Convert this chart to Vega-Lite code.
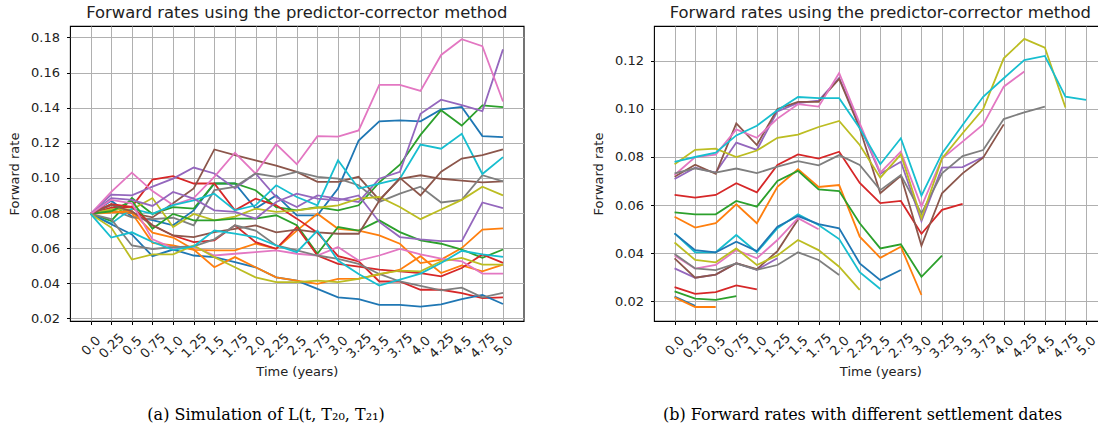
{
  "$schema": "https://vega.github.io/schema/vega-lite/v6.json",
  "background": "white",
  "padding": {"left": 8, "top": 4, "right": 0, "bottom": 0},
  "spacing": 67,
  "config": {
    "font": "DejaVu Sans",
    "view": {"stroke": "#000", "strokeWidth": 1.1},
    "axis": {
      "grid": true, "gridColor": "#b0b0b0", "gridWidth": 1,
      "domain": false, "tickColor": "#000", "tickSize": 3.5, "tickWidth": 1,
      "labelFont": "DejaVu Sans", "labelFontSize": 13, "labelColor": "#222",
      "titleFont": "DejaVu Sans", "titleFontSize": 13, "titleFontWeight": "normal", "titleColor": "#222"
    },
    "title": {"font": "DejaVu Sans", "fontSize": 16.4, "fontWeight": "normal", "color": "#222"},
    "line": {"strokeWidth": 1.8}
  },
  "datasets": {
    "sim": [
      {"path":1,"t":0,"rate":0.0795},{"path":1,"t":0.25,"rate":0.087},{"path":1,"t":0.5,"rate":0.078},{"path":1,"t":0.75,"rate":0.076},{"path":1,"t":1,"rate":0.073},{"path":1,"t":1.25,"rate":0.0815},{"path":1,"t":1.5,"rate":0.0968},{"path":1,"t":1.75,"rate":0.0968},{"path":1,"t":2,"rate":0.0825},{"path":1,"t":2.25,"rate":0.09},{"path":1,"t":2.5,"rate":0.0787},{"path":1,"t":2.75,"rate":0.0787},{"path":1,"t":3,"rate":0.094},{"path":1,"t":3.25,"rate":0.1213},{"path":1,"t":3.5,"rate":0.1322},{"path":1,"t":3.75,"rate":0.1328},{"path":1,"t":4,"rate":0.1322},{"path":1,"t":4.25,"rate":0.139},{"path":1,"t":4.5,"rate":0.1404},{"path":1,"t":4.75,"rate":0.1238},{"path":1,"t":5,"rate":0.1232},
      {"path":2,"t":0,"rate":0.0795},{"path":2,"t":0.25,"rate":0.081},{"path":2,"t":0.5,"rate":0.08},{"path":2,"t":0.75,"rate":0.063},{"path":2,"t":1,"rate":0.0615},{"path":2,"t":1.25,"rate":0.059},{"path":2,"t":1.5,"rate":0.0587},{"path":2,"t":1.75,"rate":0.0587},{"path":2,"t":2,"rate":0.0625},{"path":2,"t":2.25,"rate":0.0596},{"path":2,"t":2.5,"rate":0.07},{"path":2,"t":2.75,"rate":0.0796},{"path":2,"t":3,"rate":0.071},{"path":2,"t":3.25,"rate":0.07},{"path":2,"t":3.5,"rate":0.0672},{"path":2,"t":3.75,"rate":0.0625},{"path":2,"t":4,"rate":0.0515},{"path":2,"t":4.25,"rate":0.0535},{"path":2,"t":4.5,"rate":0.06},{"path":2,"t":4.75,"rate":0.0705},{"path":2,"t":5,"rate":0.0713},
      {"path":3,"t":0,"rate":0.0795},{"path":3,"t":0.25,"rate":0.0755},{"path":3,"t":0.5,"rate":0.0885},{"path":3,"t":0.75,"rate":0.0795},{"path":3,"t":1,"rate":0.0834},{"path":3,"t":1.25,"rate":0.0825},{"path":3,"t":1.5,"rate":0.0968},{"path":3,"t":1.75,"rate":0.0968},{"path":3,"t":2,"rate":0.093},{"path":3,"t":2.25,"rate":0.0834},{"path":3,"t":2.5,"rate":0.0815},{"path":3,"t":2.75,"rate":0.0834},{"path":3,"t":3,"rate":0.0815},{"path":3,"t":3.25,"rate":0.0844},{"path":3,"t":3.5,"rate":0.0975},{"path":3,"t":3.75,"rate":0.1075},{"path":3,"t":4,"rate":0.1245},{"path":3,"t":4.25,"rate":0.1385},{"path":3,"t":4.5,"rate":0.1298},{"path":3,"t":4.75,"rate":0.1413},{"path":3,"t":5,"rate":0.1403},
      {"path":4,"t":0,"rate":0.0795},{"path":4,"t":0.25,"rate":0.083},{"path":4,"t":0.5,"rate":0.0835},{"path":4,"t":0.75,"rate":0.099},{"path":4,"t":1,"rate":0.101},{"path":4,"t":1.25,"rate":0.0968},{"path":4,"t":1.5,"rate":0.0968},{"path":4,"t":1.75,"rate":0.0815},{"path":4,"t":2,"rate":0.0882},{"path":4,"t":2.25,"rate":0.0844},{"path":4,"t":2.5,"rate":0.0768},{"path":4,"t":2.75,"rate":0.0688},{"path":4,"t":3,"rate":0.0554},{"path":4,"t":3.25,"rate":0.0525},{"path":4,"t":3.5,"rate":0.041},{"path":4,"t":3.75,"rate":0.041},{"path":4,"t":4,"rate":0.0363},{"path":4,"t":4.25,"rate":0.0363},{"path":4,"t":4.5,"rate":0.0344},{"path":4,"t":4.75,"rate":0.0315},{"path":4,"t":5,"rate":0.0319},
      {"path":5,"t":0,"rate":0.0795},{"path":5,"t":0.25,"rate":0.0905},{"path":5,"t":0.5,"rate":0.09},{"path":5,"t":0.75,"rate":0.095},{"path":5,"t":1,"rate":0.0996},{"path":5,"t":1.25,"rate":0.1059},{"path":5,"t":1.5,"rate":0.1025},{"path":5,"t":1.75,"rate":0.094},{"path":5,"t":2,"rate":0.1025},{"path":5,"t":2.25,"rate":0.0891},{"path":5,"t":2.5,"rate":0.0834},{"path":5,"t":2.75,"rate":0.09},{"path":5,"t":3,"rate":0.0882},{"path":5,"t":3.25,"rate":0.0863},{"path":5,"t":3.5,"rate":0.0995},{"path":5,"t":3.75,"rate":0.1035},{"path":5,"t":4,"rate":0.1365},{"path":5,"t":4.25,"rate":0.1445},{"path":5,"t":4.5,"rate":0.1415},{"path":5,"t":4.75,"rate":0.138},{"path":5,"t":5,"rate":0.1732},
      {"path":6,"t":0,"rate":0.0795},{"path":6,"t":0.25,"rate":0.085},{"path":6,"t":0.5,"rate":0.08},{"path":6,"t":0.75,"rate":0.0775},{"path":6,"t":1,"rate":0.0855},{"path":6,"t":1.25,"rate":0.094},{"path":6,"t":1.5,"rate":0.1162},{"path":6,"t":1.75,"rate":0.113},{"path":6,"t":2,"rate":0.11},{"path":6,"t":2.25,"rate":0.107},{"path":6,"t":2.5,"rate":0.1034},{"path":6,"t":2.75,"rate":0.0977},{"path":6,"t":3,"rate":0.0977},{"path":6,"t":3.25,"rate":0.1006},{"path":6,"t":3.5,"rate":0.0875},{"path":6,"t":3.75,"rate":0.0995},{"path":6,"t":4,"rate":0.1015},{"path":6,"t":4.25,"rate":0.0995},{"path":6,"t":4.5,"rate":0.0985},{"path":6,"t":4.75,"rate":0.0975},{"path":6,"t":5,"rate":0.098},
      {"path":7,"t":0,"rate":0.0795},{"path":7,"t":0.25,"rate":0.092},{"path":7,"t":0.5,"rate":0.103},{"path":7,"t":0.75,"rate":0.0925},{"path":7,"t":1,"rate":0.0845},{"path":7,"t":1.25,"rate":0.0885},{"path":7,"t":1.5,"rate":0.1006},{"path":7,"t":1.75,"rate":0.1143},{"path":7,"t":2,"rate":0.1025},{"path":7,"t":2.25,"rate":0.1192},{"path":7,"t":2.5,"rate":0.1078},{"path":7,"t":2.75,"rate":0.1238},{"path":7,"t":3,"rate":0.1235},{"path":7,"t":3.25,"rate":0.127},{"path":7,"t":3.5,"rate":0.153},{"path":7,"t":3.75,"rate":0.153},{"path":7,"t":4,"rate":0.1495},{"path":7,"t":4.25,"rate":0.17},{"path":7,"t":4.5,"rate":0.179},{"path":7,"t":4.75,"rate":0.175},{"path":7,"t":5,"rate":0.1435},
      {"path":8,"t":0,"rate":0.0795},{"path":8,"t":0.25,"rate":0.082},{"path":8,"t":0.5,"rate":0.0775},{"path":8,"t":0.75,"rate":0.0765},{"path":8,"t":1,"rate":0.0773},{"path":8,"t":1.25,"rate":0.073},{"path":8,"t":1.5,"rate":0.093},{"path":8,"t":1.75,"rate":0.0949},{"path":8,"t":2,"rate":0.1025},{"path":8,"t":2.25,"rate":0.1006},{"path":8,"t":2.5,"rate":0.1034},{"path":8,"t":2.75,"rate":0.1006},{"path":8,"t":3,"rate":0.0996},{"path":8,"t":3.25,"rate":0.0958},{"path":8,"t":3.5,"rate":0.0863},{"path":8,"t":3.75,"rate":0.091},{"path":8,"t":4,"rate":0.095},{"path":8,"t":4.25,"rate":0.086},{"path":8,"t":4.5,"rate":0.0875},{"path":8,"t":4.75,"rate":0.1015},{"path":8,"t":5,"rate":0.098},
      {"path":9,"t":0,"rate":0.0795},{"path":9,"t":0.25,"rate":0.082},{"path":9,"t":0.5,"rate":0.082},{"path":9,"t":0.75,"rate":0.0885},{"path":9,"t":1,"rate":0.072},{"path":9,"t":1.25,"rate":0.0795},{"path":9,"t":1.5,"rate":0.0758},{"path":9,"t":1.75,"rate":0.078},{"path":9,"t":2,"rate":0.0825},{"path":9,"t":2.25,"rate":0.0806},{"path":9,"t":2.5,"rate":0.0815},{"path":9,"t":2.75,"rate":0.083},{"path":9,"t":3,"rate":0.0844},{"path":9,"t":3.25,"rate":0.0882},{"path":9,"t":3.5,"rate":0.0891},{"path":9,"t":3.75,"rate":0.0834},{"path":9,"t":4,"rate":0.0765},{"path":9,"t":4.25,"rate":0.082},{"path":9,"t":4.5,"rate":0.0875},{"path":9,"t":4.75,"rate":0.095},{"path":9,"t":5,"rate":0.09},
      {"path":10,"t":0,"rate":0.0795},{"path":10,"t":0.25,"rate":0.074},{"path":10,"t":0.5,"rate":0.0825},{"path":10,"t":0.75,"rate":0.0795},{"path":10,"t":1,"rate":0.0845},{"path":10,"t":1.25,"rate":0.0872},{"path":10,"t":1.5,"rate":0.091},{"path":10,"t":1.75,"rate":0.0815},{"path":10,"t":2,"rate":0.0844},{"path":10,"t":2.25,"rate":0.0958},{"path":10,"t":2.5,"rate":0.0891},{"path":10,"t":2.75,"rate":0.0844},{"path":10,"t":3,"rate":0.11},{"path":10,"t":3.25,"rate":0.0939},{"path":10,"t":3.5,"rate":0.0968},{"path":10,"t":3.75,"rate":0.0996},{"path":10,"t":4,"rate":0.119},{"path":10,"t":4.25,"rate":0.1166},{"path":10,"t":4.5,"rate":0.1251},{"path":10,"t":4.75,"rate":0.1022},{"path":10,"t":5,"rate":0.1118},
      {"path":11,"t":0,"rate":0.0795},{"path":11,"t":0.25,"rate":0.0736},{"path":11,"t":0.5,"rate":0.0678},{"path":11,"t":0.75,"rate":0.0554},{"path":11,"t":1,"rate":0.0592},{"path":11,"t":1.25,"rate":0.0558},{"path":11,"t":1.5,"rate":0.0549},{"path":11,"t":1.75,"rate":0.052},{"path":11,"t":2,"rate":0.0491},{"path":11,"t":2.25,"rate":0.0434},{"path":11,"t":2.5,"rate":0.0415},{"path":11,"t":2.75,"rate":0.0368},{"path":11,"t":3,"rate":0.032},{"path":11,"t":3.25,"rate":0.031},{"path":11,"t":3.5,"rate":0.0277},{"path":11,"t":3.75,"rate":0.0277},{"path":11,"t":4,"rate":0.0267},{"path":11,"t":4.25,"rate":0.028},{"path":11,"t":4.5,"rate":0.031},{"path":11,"t":4.75,"rate":0.0334},{"path":11,"t":5,"rate":0.0282},
      {"path":12,"t":0,"rate":0.0795},{"path":12,"t":0.25,"rate":0.0803},{"path":12,"t":0.5,"rate":0.081},{"path":12,"t":0.75,"rate":0.0688},{"path":12,"t":1,"rate":0.066},{"path":12,"t":1.25,"rate":0.0592},{"path":12,"t":1.5,"rate":0.0491},{"path":12,"t":1.75,"rate":0.0549},{"path":12,"t":2,"rate":0.0491},{"path":12,"t":2.25,"rate":0.0434},{"path":12,"t":2.5,"rate":0.0415},{"path":12,"t":2.75,"rate":0.0396},{"path":12,"t":3,"rate":0.0425},{"path":12,"t":3.25,"rate":0.0426},{"path":12,"t":3.5,"rate":0.0449},{"path":12,"t":3.75,"rate":0.0477},{"path":12,"t":4,"rate":0.0554},{"path":12,"t":4.25,"rate":0.0458},{"path":12,"t":4.5,"rate":0.0502},{"path":12,"t":4.75,"rate":0.0468},{"path":12,"t":5,"rate":0.0506},
      {"path":13,"t":0,"rate":0.0795},{"path":13,"t":0.25,"rate":0.081},{"path":13,"t":0.5,"rate":0.087},{"path":13,"t":0.75,"rate":0.071},{"path":13,"t":1,"rate":0.0795},{"path":13,"t":1.25,"rate":0.0758},{"path":13,"t":1.5,"rate":0.0758},{"path":13,"t":1.75,"rate":0.0768},{"path":13,"t":2,"rate":0.0768},{"path":13,"t":2.25,"rate":0.0787},{"path":13,"t":2.5,"rate":0.073},{"path":13,"t":2.75,"rate":0.0568},{"path":13,"t":3,"rate":0.072},{"path":13,"t":3.25,"rate":0.07},{"path":13,"t":3.5,"rate":0.0758},{"path":13,"t":3.75,"rate":0.0691},{"path":13,"t":4,"rate":0.0644},{"path":13,"t":4.25,"rate":0.0625},{"path":13,"t":4.5,"rate":0.0592},{"path":13,"t":4.75,"rate":0.0545},{"path":13,"t":5,"rate":0.0592},
      {"path":14,"t":0,"rate":0.0795},{"path":14,"t":0.25,"rate":0.085},{"path":14,"t":0.5,"rate":0.0835},{"path":14,"t":0.75,"rate":0.073},{"path":14,"t":1,"rate":0.0672},{"path":14,"t":1.25,"rate":0.0634},{"path":14,"t":1.5,"rate":0.0644},{"path":14,"t":1.75,"rate":0.073},{"path":14,"t":2,"rate":0.0634},{"path":14,"t":2.25,"rate":0.0596},{"path":14,"t":2.5,"rate":0.072},{"path":14,"t":2.75,"rate":0.0558},{"path":14,"t":3,"rate":0.051},{"path":14,"t":3.25,"rate":0.0495},{"path":14,"t":3.5,"rate":0.0477},{"path":14,"t":3.75,"rate":0.0468},{"path":14,"t":4,"rate":0.0458},{"path":14,"t":4.25,"rate":0.0439},{"path":14,"t":4.5,"rate":0.0487},{"path":14,"t":4.75,"rate":0.0564},{"path":14,"t":5,"rate":0.0516},
      {"path":15,"t":0,"rate":0.0795},{"path":15,"t":0.25,"rate":0.0885},{"path":15,"t":0.5,"rate":0.0875},{"path":15,"t":0.75,"rate":0.084},{"path":15,"t":1,"rate":0.092},{"path":15,"t":1.25,"rate":0.0882},{"path":15,"t":1.5,"rate":0.0815},{"path":15,"t":1.75,"rate":0.0806},{"path":15,"t":2,"rate":0.0768},{"path":15,"t":2.25,"rate":0.0863},{"path":15,"t":2.5,"rate":0.091},{"path":15,"t":2.75,"rate":0.0882},{"path":15,"t":3,"rate":0.0872},{"path":15,"t":3.25,"rate":0.09},{"path":15,"t":3.5,"rate":0.0749},{"path":15,"t":3.75,"rate":0.0663},{"path":15,"t":4,"rate":0.065},{"path":15,"t":4.25,"rate":0.064},{"path":15,"t":4.5,"rate":0.064},{"path":15,"t":4.75,"rate":0.086},{"path":15,"t":5,"rate":0.0828},
      {"path":16,"t":0,"rate":0.0795},{"path":16,"t":0.25,"rate":0.0845},{"path":16,"t":0.5,"rate":0.081},{"path":16,"t":0.75,"rate":0.073},{"path":16,"t":1,"rate":0.0672},{"path":16,"t":1.25,"rate":0.0663},{"path":16,"t":1.5,"rate":0.0691},{"path":16,"t":1.75,"rate":0.071},{"path":16,"t":2,"rate":0.073},{"path":16,"t":2.25,"rate":0.069},{"path":16,"t":2.5,"rate":0.0705},{"path":16,"t":2.75,"rate":0.069},{"path":16,"t":3,"rate":0.0682},{"path":16,"t":3.25,"rate":0.0682},{"path":16,"t":3.5,"rate":0.087},{"path":16,"t":3.75,"rate":0.1},{"path":16,"t":4,"rate":0.09},{"path":16,"t":4.25,"rate":0.1035},{"path":16,"t":4.5,"rate":0.111},{"path":16,"t":4.75,"rate":0.113},{"path":16,"t":5,"rate":0.1162},
      {"path":17,"t":0,"rate":0.0795},{"path":17,"t":0.25,"rate":0.0875},{"path":17,"t":0.5,"rate":0.0855},{"path":17,"t":0.75,"rate":0.065},{"path":17,"t":1,"rate":0.06},{"path":17,"t":1.25,"rate":0.061},{"path":17,"t":1.5,"rate":0.0558},{"path":17,"t":1.75,"rate":0.0568},{"path":17,"t":2,"rate":0.0577},{"path":17,"t":2.25,"rate":0.0587},{"path":17,"t":2.5,"rate":0.0568},{"path":17,"t":2.75,"rate":0.0558},{"path":17,"t":3,"rate":0.0606},{"path":17,"t":3.25,"rate":0.0529},{"path":17,"t":3.5,"rate":0.0558},{"path":17,"t":3.75,"rate":0.0596},{"path":17,"t":4,"rate":0.0565},{"path":17,"t":4.25,"rate":0.054},{"path":17,"t":4.5,"rate":0.0525},{"path":17,"t":4.75,"rate":0.0455},{"path":17,"t":5,"rate":0.0455},
      {"path":18,"t":0,"rate":0.0795},{"path":18,"t":0.25,"rate":0.0765},{"path":18,"t":0.5,"rate":0.0615},{"path":18,"t":0.75,"rate":0.0595},{"path":18,"t":1,"rate":0.0606},{"path":18,"t":1.25,"rate":0.061},{"path":18,"t":1.5,"rate":0.065},{"path":18,"t":1.75,"rate":0.073},{"path":18,"t":2,"rate":0.07},{"path":18,"t":2.25,"rate":0.0615},{"path":18,"t":2.5,"rate":0.0587},{"path":18,"t":2.75,"rate":0.0558},{"path":18,"t":3,"rate":0.0539},{"path":18,"t":3.25,"rate":0.051},{"path":18,"t":3.5,"rate":0.0453},{"path":18,"t":3.75,"rate":0.041},{"path":18,"t":4,"rate":0.0385},{"path":18,"t":4.25,"rate":0.036},{"path":18,"t":4.5,"rate":0.0375},{"path":18,"t":4.75,"rate":0.032},{"path":18,"t":5,"rate":0.0345},
      {"path":19,"t":0,"rate":0.0795},{"path":19,"t":0.25,"rate":0.0717},{"path":19,"t":0.5,"rate":0.0535},{"path":19,"t":0.75,"rate":0.0564},{"path":19,"t":1,"rate":0.0564},{"path":19,"t":1.25,"rate":0.0615},{"path":19,"t":1.5,"rate":0.0549},{"path":19,"t":1.75,"rate":0.0491},{"path":19,"t":2,"rate":0.0434},{"path":19,"t":2.25,"rate":0.0406},{"path":19,"t":2.5,"rate":0.0406},{"path":19,"t":2.75,"rate":0.0415},{"path":19,"t":3,"rate":0.0406},{"path":19,"t":3.25,"rate":0.0425},{"path":19,"t":3.5,"rate":0.0453},{"path":19,"t":3.75,"rate":0.0472},{"path":19,"t":4,"rate":0.0468},{"path":19,"t":4.25,"rate":0.0525},{"path":19,"t":4.5,"rate":0.0544},{"path":19,"t":4.75,"rate":0.0506},{"path":19,"t":5,"rate":0.0506},
      {"path":20,"t":0,"rate":0.0795},{"path":20,"t":0.25,"rate":0.066},{"path":20,"t":0.5,"rate":0.069},{"path":20,"t":0.75,"rate":0.0635},{"path":20,"t":1,"rate":0.059},{"path":20,"t":1.25,"rate":0.061},{"path":20,"t":1.5,"rate":0.07},{"path":20,"t":1.75,"rate":0.0682},{"path":20,"t":2,"rate":0.0663},{"path":20,"t":2.25,"rate":0.0615},{"path":20,"t":2.5,"rate":0.0577},{"path":20,"t":2.75,"rate":0.07},{"path":20,"t":3,"rate":0.0529},{"path":20,"t":3.25,"rate":0.0453},{"path":20,"t":3.5,"rate":0.0387},{"path":20,"t":3.75,"rate":0.042},{"path":20,"t":4,"rate":0.0455},{"path":20,"t":4.25,"rate":0.0515},{"path":20,"t":4.5,"rate":0.0585},{"path":20,"t":4.75,"rate":0.0565},{"path":20,"t":5,"rate":0.055}
    ],
    "settle": [
      {"path":1,"t":0,"rate":0.0218},{"path":1,"t":0.25,"rate":0.018},
      {"path":2,"t":0,"rate":0.0215},{"path":2,"t":0.25,"rate":0.0175},{"path":2,"t":0.5,"rate":0.0175},
      {"path":3,"t":0,"rate":0.024},{"path":3,"t":0.25,"rate":0.021},{"path":3,"t":0.5,"rate":0.0205},{"path":3,"t":0.75,"rate":0.022},
      {"path":4,"t":0,"rate":0.0258},{"path":4,"t":0.25,"rate":0.023},{"path":4,"t":0.5,"rate":0.0237},{"path":4,"t":0.75,"rate":0.0265},{"path":4,"t":1,"rate":0.0248},
      {"path":5,"t":0,"rate":0.0336},{"path":5,"t":0.25,"rate":0.0297},{"path":5,"t":0.5,"rate":0.031},{"path":5,"t":0.75,"rate":0.0357},{"path":5,"t":1,"rate":0.033},{"path":5,"t":1.25,"rate":0.0378},
      {"path":6,"t":0,"rate":0.0378},{"path":6,"t":0.25,"rate":0.0297},{"path":6,"t":0.5,"rate":0.031},{"path":6,"t":0.75,"rate":0.0357},{"path":6,"t":1,"rate":0.0333},{"path":6,"t":1.25,"rate":0.0408},{"path":6,"t":1.5,"rate":0.054},
      {"path":7,"t":0,"rate":0.039},{"path":7,"t":0.25,"rate":0.0335},{"path":7,"t":0.5,"rate":0.035},{"path":7,"t":0.75,"rate":0.0412},{"path":7,"t":1,"rate":0.0378},{"path":7,"t":1.25,"rate":0.0454},{"path":7,"t":1.5,"rate":0.0545},{"path":7,"t":1.75,"rate":0.0499},
      {"path":8,"t":0,"rate":0.0396},{"path":8,"t":0.25,"rate":0.0336},{"path":8,"t":0.5,"rate":0.0329},{"path":8,"t":0.75,"rate":0.0357},{"path":8,"t":1,"rate":0.033},{"path":8,"t":1.25,"rate":0.035},{"path":8,"t":1.5,"rate":0.0403},{"path":8,"t":1.75,"rate":0.0371},{"path":8,"t":2,"rate":0.0308},
      {"path":9,"t":0,"rate":0.0444},{"path":9,"t":0.25,"rate":0.0371},{"path":9,"t":0.5,"rate":0.0361},{"path":9,"t":0.75,"rate":0.0419},{"path":9,"t":1,"rate":0.035},{"path":9,"t":1.25,"rate":0.039},{"path":9,"t":1.5,"rate":0.0454},{"path":9,"t":1.75,"rate":0.0412},{"path":9,"t":2,"rate":0.0343},{"path":9,"t":2.25,"rate":0.0246},
      {"path":10,"t":0,"rate":0.0482},{"path":10,"t":0.25,"rate":0.0403},{"path":10,"t":0.5,"rate":0.0403},{"path":10,"t":0.75,"rate":0.0475},{"path":10,"t":1,"rate":0.0403},{"path":10,"t":1.25,"rate":0.0503},{"path":10,"t":1.5,"rate":0.0561},{"path":10,"t":1.75,"rate":0.0517},{"path":10,"t":2,"rate":0.0458},{"path":10,"t":2.25,"rate":0.032},{"path":10,"t":2.5,"rate":0.025},
      {"path":11,"t":0,"rate":0.0482},{"path":11,"t":0.25,"rate":0.0412},{"path":11,"t":0.5,"rate":0.0403},{"path":11,"t":0.75,"rate":0.0447},{"path":11,"t":1,"rate":0.0408},{"path":11,"t":1.25,"rate":0.051},{"path":11,"t":1.5,"rate":0.0554},{"path":11,"t":1.75,"rate":0.052},{"path":11,"t":2,"rate":0.0503},{"path":11,"t":2.25,"rate":0.0357},{"path":11,"t":2.5,"rate":0.0287},{"path":11,"t":2.75,"rate":0.0329},
      {"path":12,"t":0,"rate":0.0551},{"path":12,"t":0.25,"rate":0.0506},{"path":12,"t":0.5,"rate":0.0524},{"path":12,"t":0.75,"rate":0.0603},{"path":12,"t":1,"rate":0.0524},{"path":12,"t":1.25,"rate":0.0676},{"path":12,"t":1.5,"rate":0.0749},{"path":12,"t":1.75,"rate":0.0675},{"path":12,"t":2,"rate":0.0683},{"path":12,"t":2.25,"rate":0.0468},{"path":12,"t":2.5,"rate":0.038},{"path":12,"t":2.75,"rate":0.0426},{"path":12,"t":3,"rate":0.0225},
      {"path":13,"t":0,"rate":0.0569},{"path":13,"t":0.25,"rate":0.0561},{"path":13,"t":0.5,"rate":0.0561},{"path":13,"t":0.75,"rate":0.0617},{"path":13,"t":1,"rate":0.0593},{"path":13,"t":1.25,"rate":0.07},{"path":13,"t":1.5,"rate":0.0742},{"path":13,"t":1.75,"rate":0.0665},{"path":13,"t":2,"rate":0.0658},{"path":13,"t":2.25,"rate":0.0524},{"path":13,"t":2.5,"rate":0.0419},{"path":13,"t":2.75,"rate":0.0436},{"path":13,"t":3,"rate":0.0301},{"path":13,"t":3.25,"rate":0.0389},
      {"path":14,"t":0,"rate":0.0642},{"path":14,"t":0.25,"rate":0.0631},{"path":14,"t":0.5,"rate":0.0642},{"path":14,"t":0.75,"rate":0.0691},{"path":14,"t":1,"rate":0.0653},{"path":14,"t":1.25,"rate":0.0767},{"path":14,"t":1.5,"rate":0.0811},{"path":14,"t":1.75,"rate":0.0793},{"path":14,"t":2,"rate":0.0822},{"path":14,"t":2.25,"rate":0.0692},{"path":14,"t":2.5,"rate":0.0608},{"path":14,"t":2.75,"rate":0.0617},{"path":14,"t":3,"rate":0.048},{"path":14,"t":3.25,"rate":0.058},{"path":14,"t":3.5,"rate":0.0605},
      {"path":15,"t":0,"rate":0.0708},{"path":15,"t":0.25,"rate":0.0755},{"path":15,"t":0.5,"rate":0.0735},{"path":15,"t":0.75,"rate":0.086},{"path":15,"t":1,"rate":0.083},{"path":15,"t":1.25,"rate":0.099},{"path":15,"t":1.5,"rate":0.1025},{"path":15,"t":1.75,"rate":0.1035},{"path":15,"t":2,"rate":0.113},{"path":15,"t":2.25,"rate":0.093},{"path":15,"t":2.5,"rate":0.073},{"path":15,"t":2.75,"rate":0.078},{"path":15,"t":3,"rate":0.0533},{"path":15,"t":3.25,"rate":0.0756},{"path":15,"t":3.5,"rate":0.0758},{"path":15,"t":3.75,"rate":0.08},
      {"path":16,"t":0,"rate":0.0718},{"path":16,"t":0.25,"rate":0.0768},{"path":16,"t":0.5,"rate":0.073},{"path":16,"t":0.75,"rate":0.094},{"path":16,"t":1,"rate":0.085},{"path":16,"t":1.25,"rate":0.1},{"path":16,"t":1.5,"rate":0.103},{"path":16,"t":1.75,"rate":0.103},{"path":16,"t":2,"rate":0.1125},{"path":16,"t":2.25,"rate":0.092},{"path":16,"t":2.5,"rate":0.0649},{"path":16,"t":2.75,"rate":0.0722},{"path":16,"t":3,"rate":0.043},{"path":16,"t":3.25,"rate":0.0649},{"path":16,"t":3.5,"rate":0.0732},{"path":16,"t":3.75,"rate":0.0797},{"path":16,"t":4,"rate":0.0936},
      {"path":17,"t":0,"rate":0.0725},{"path":17,"t":0.25,"rate":0.08},{"path":17,"t":0.5,"rate":0.081},{"path":17,"t":0.75,"rate":0.0915},{"path":17,"t":1,"rate":0.088},{"path":17,"t":1.25,"rate":0.096},{"path":17,"t":1.5,"rate":0.102},{"path":17,"t":1.75,"rate":0.101},{"path":17,"t":2,"rate":0.115},{"path":17,"t":2.25,"rate":0.094},{"path":17,"t":2.5,"rate":0.0735},{"path":17,"t":2.75,"rate":0.0822},{"path":17,"t":3,"rate":0.0593},{"path":17,"t":3.25,"rate":0.0794},{"path":17,"t":3.5,"rate":0.0864},{"path":17,"t":3.75,"rate":0.0936},{"path":17,"t":4,"rate":0.1093},{"path":17,"t":4.25,"rate":0.1156},
      {"path":18,"t":0,"rate":0.0732},{"path":18,"t":0.25,"rate":0.0753},{"path":18,"t":0.5,"rate":0.0735},{"path":18,"t":0.75,"rate":0.0752},{"path":18,"t":1,"rate":0.0733},{"path":18,"t":1.25,"rate":0.076},{"path":18,"t":1.5,"rate":0.0783},{"path":18,"t":1.75,"rate":0.0765},{"path":18,"t":2,"rate":0.0808},{"path":18,"t":2.25,"rate":0.0767},{"path":18,"t":2.5,"rate":0.0662},{"path":18,"t":2.75,"rate":0.0725},{"path":18,"t":3,"rate":0.0565},{"path":18,"t":3.25,"rate":0.0732},{"path":18,"t":3.5,"rate":0.0804},{"path":18,"t":3.75,"rate":0.0829},{"path":18,"t":4,"rate":0.0958},{"path":18,"t":4.25,"rate":0.0986},{"path":18,"t":4.5,"rate":0.101},
      {"path":19,"t":0,"rate":0.077},{"path":19,"t":0.25,"rate":0.083},{"path":19,"t":0.5,"rate":0.0835},{"path":19,"t":0.75,"rate":0.08},{"path":19,"t":1,"rate":0.0827},{"path":19,"t":1.25,"rate":0.088},{"path":19,"t":1.5,"rate":0.0893},{"path":19,"t":1.75,"rate":0.0925},{"path":19,"t":2,"rate":0.095},{"path":19,"t":2.25,"rate":0.085},{"path":19,"t":2.5,"rate":0.0714},{"path":19,"t":2.75,"rate":0.0811},{"path":19,"t":3,"rate":0.0544},{"path":19,"t":3.25,"rate":0.0794},{"path":19,"t":3.5,"rate":0.0899},{"path":19,"t":3.75,"rate":0.1},{"path":19,"t":4,"rate":0.1211},{"path":19,"t":4.25,"rate":0.1292},{"path":19,"t":4.5,"rate":0.1256},{"path":19,"t":4.75,"rate":0.1006},
      {"path":20,"t":0,"rate":0.078},{"path":20,"t":0.25,"rate":0.08},{"path":20,"t":0.5,"rate":0.0818},{"path":20,"t":0.75,"rate":0.089},{"path":20,"t":1,"rate":0.093},{"path":20,"t":1.25,"rate":0.0995},{"path":20,"t":1.5,"rate":0.105},{"path":20,"t":1.75,"rate":0.1045},{"path":20,"t":2,"rate":0.1045},{"path":20,"t":2.25,"rate":0.092},{"path":20,"t":2.5,"rate":0.077},{"path":20,"t":2.75,"rate":0.0878},{"path":20,"t":3,"rate":0.0639},{"path":20,"t":3.25,"rate":0.0815},{"path":20,"t":3.5,"rate":0.0933},{"path":20,"t":3.75,"rate":0.1051},{"path":20,"t":4,"rate":0.1128},{"path":20,"t":4.25,"rate":0.1204},{"path":20,"t":4.5,"rate":0.1221},{"path":20,"t":4.75,"rate":0.1051},{"path":20,"t":5,"rate":0.1038}
    ]
  },
  "hconcat": [
    {
      "title": {"text": "(a) Simulation of L(t, T₂₀, T₂₁)", "orient": "bottom", "anchor": "middle", "frame": "bounds", "font": "DejaVu Serif", "fontSize": 16, "color": "#000", "offset": 28},
      "vconcat": [
        {
          "title": {"text": "Forward rates using the predictor-corrector method", "offset": 5},
          "width": 453.6,
          "height": 295,
          "data": {"name": "sim"},
          "mark": {"type": "line", "clip": true},
          "encoding": {
            "x": {
              "field": "t", "type": "quantitative",
              "scale": {"domain": [-0.25, 5.25], "nice": false, "zero": false},
              "axis": {
                "values": [0, 0.25, 0.5, 0.75, 1, 1.25, 1.5, 1.75, 2, 2.25, 2.5, 2.75, 3, 3.25, 3.5, 3.75, 4, 4.25, 4.5, 4.75, 5],
                "labelExpr": "datum.value == floor(datum.value) ? format(datum.value, '.1f') : format(datum.value, '')",
                "labelAngle": -45, "labelAlign": "center", "labelBaseline": "middle", "labelPadding": 21,
                "labelOverlap": false, "labelFlush": false, "labelBound": false,
                "title": "Time (years)", "titlePadding": 5
              }
            },
            "y": {
              "field": "rate", "type": "quantitative",
              "scale": {"domain": [0.0185, 0.1865], "nice": false, "zero": false},
              "axis": {"values": [0.02, 0.04, 0.06, 0.08, 0.1, 0.12, 0.14, 0.16, 0.18], "format": ".2f", "labelPadding": 7, "title": "Forward rate", "titlePadding": 9}
            },
            "color": {
              "field": "path", "type": "nominal", "legend": null,
              "scale": {
                "domain": [1, 2, 3, 4, 5, 6, 7, 8, 9, 10, 11, 12, 13, 14, 15, 16, 17, 18, 19, 20],
                "range": ["#1f77b4", "#ff7f0e", "#2ca02c", "#d62728", "#9467bd", "#8c564b", "#e377c2", "#7f7f7f", "#bcbd22", "#17becf", "#1f77b4", "#ff7f0e", "#2ca02c", "#d62728", "#9467bd", "#8c564b", "#e377c2", "#7f7f7f", "#bcbd22", "#17becf"]
              }
            }
          }
        }
      ]
    },
    {
      "title": {"text": "(b) Forward rates with different settlement dates", "orient": "bottom", "anchor": "middle", "frame": "bounds", "font": "DejaVu Serif", "fontSize": 16, "color": "#000", "offset": 28, "dx": 13},
      "vconcat": [
        {
          "title": {"text": "Forward rates using the predictor-corrector method", "offset": 5},
          "width": 452.6,
          "height": 295,
          "data": {"name": "settle"},
          "mark": {"type": "line", "clip": true},
          "encoding": {
            "x": {
              "field": "t", "type": "quantitative",
              "scale": {"domain": [-0.25, 5.25], "nice": false, "zero": false},
              "axis": {
                "values": [0, 0.25, 0.5, 0.75, 1, 1.25, 1.5, 1.75, 2, 2.25, 2.5, 2.75, 3, 3.25, 3.5, 3.75, 4, 4.25, 4.5, 4.75, 5],
                "labelExpr": "datum.value == floor(datum.value) ? format(datum.value, '.1f') : format(datum.value, '')",
                "labelAngle": -45, "labelAlign": "center", "labelBaseline": "middle", "labelPadding": 21,
                "labelOverlap": false, "labelFlush": false, "labelBound": false,
                "title": "Time (years)", "titlePadding": 5
              }
            },
            "y": {
              "field": "rate", "type": "quantitative",
              "scale": {"domain": [0.01167, 0.13458], "nice": false, "zero": false},
              "axis": {"values": [0.02, 0.04, 0.06, 0.08, 0.1, 0.12], "format": ".2f", "labelPadding": 7, "title": "Forward rate", "titlePadding": 9}
            },
            "color": {
              "field": "path", "type": "nominal", "legend": null,
              "scale": {
                "domain": [1, 2, 3, 4, 5, 6, 7, 8, 9, 10, 11, 12, 13, 14, 15, 16, 17, 18, 19, 20],
                "range": ["#1f77b4", "#ff7f0e", "#2ca02c", "#d62728", "#9467bd", "#8c564b", "#e377c2", "#7f7f7f", "#bcbd22", "#17becf", "#1f77b4", "#ff7f0e", "#2ca02c", "#d62728", "#9467bd", "#8c564b", "#e377c2", "#7f7f7f", "#bcbd22", "#17becf"]
              }
            }
          }
        }
      ]
    }
  ]
}
